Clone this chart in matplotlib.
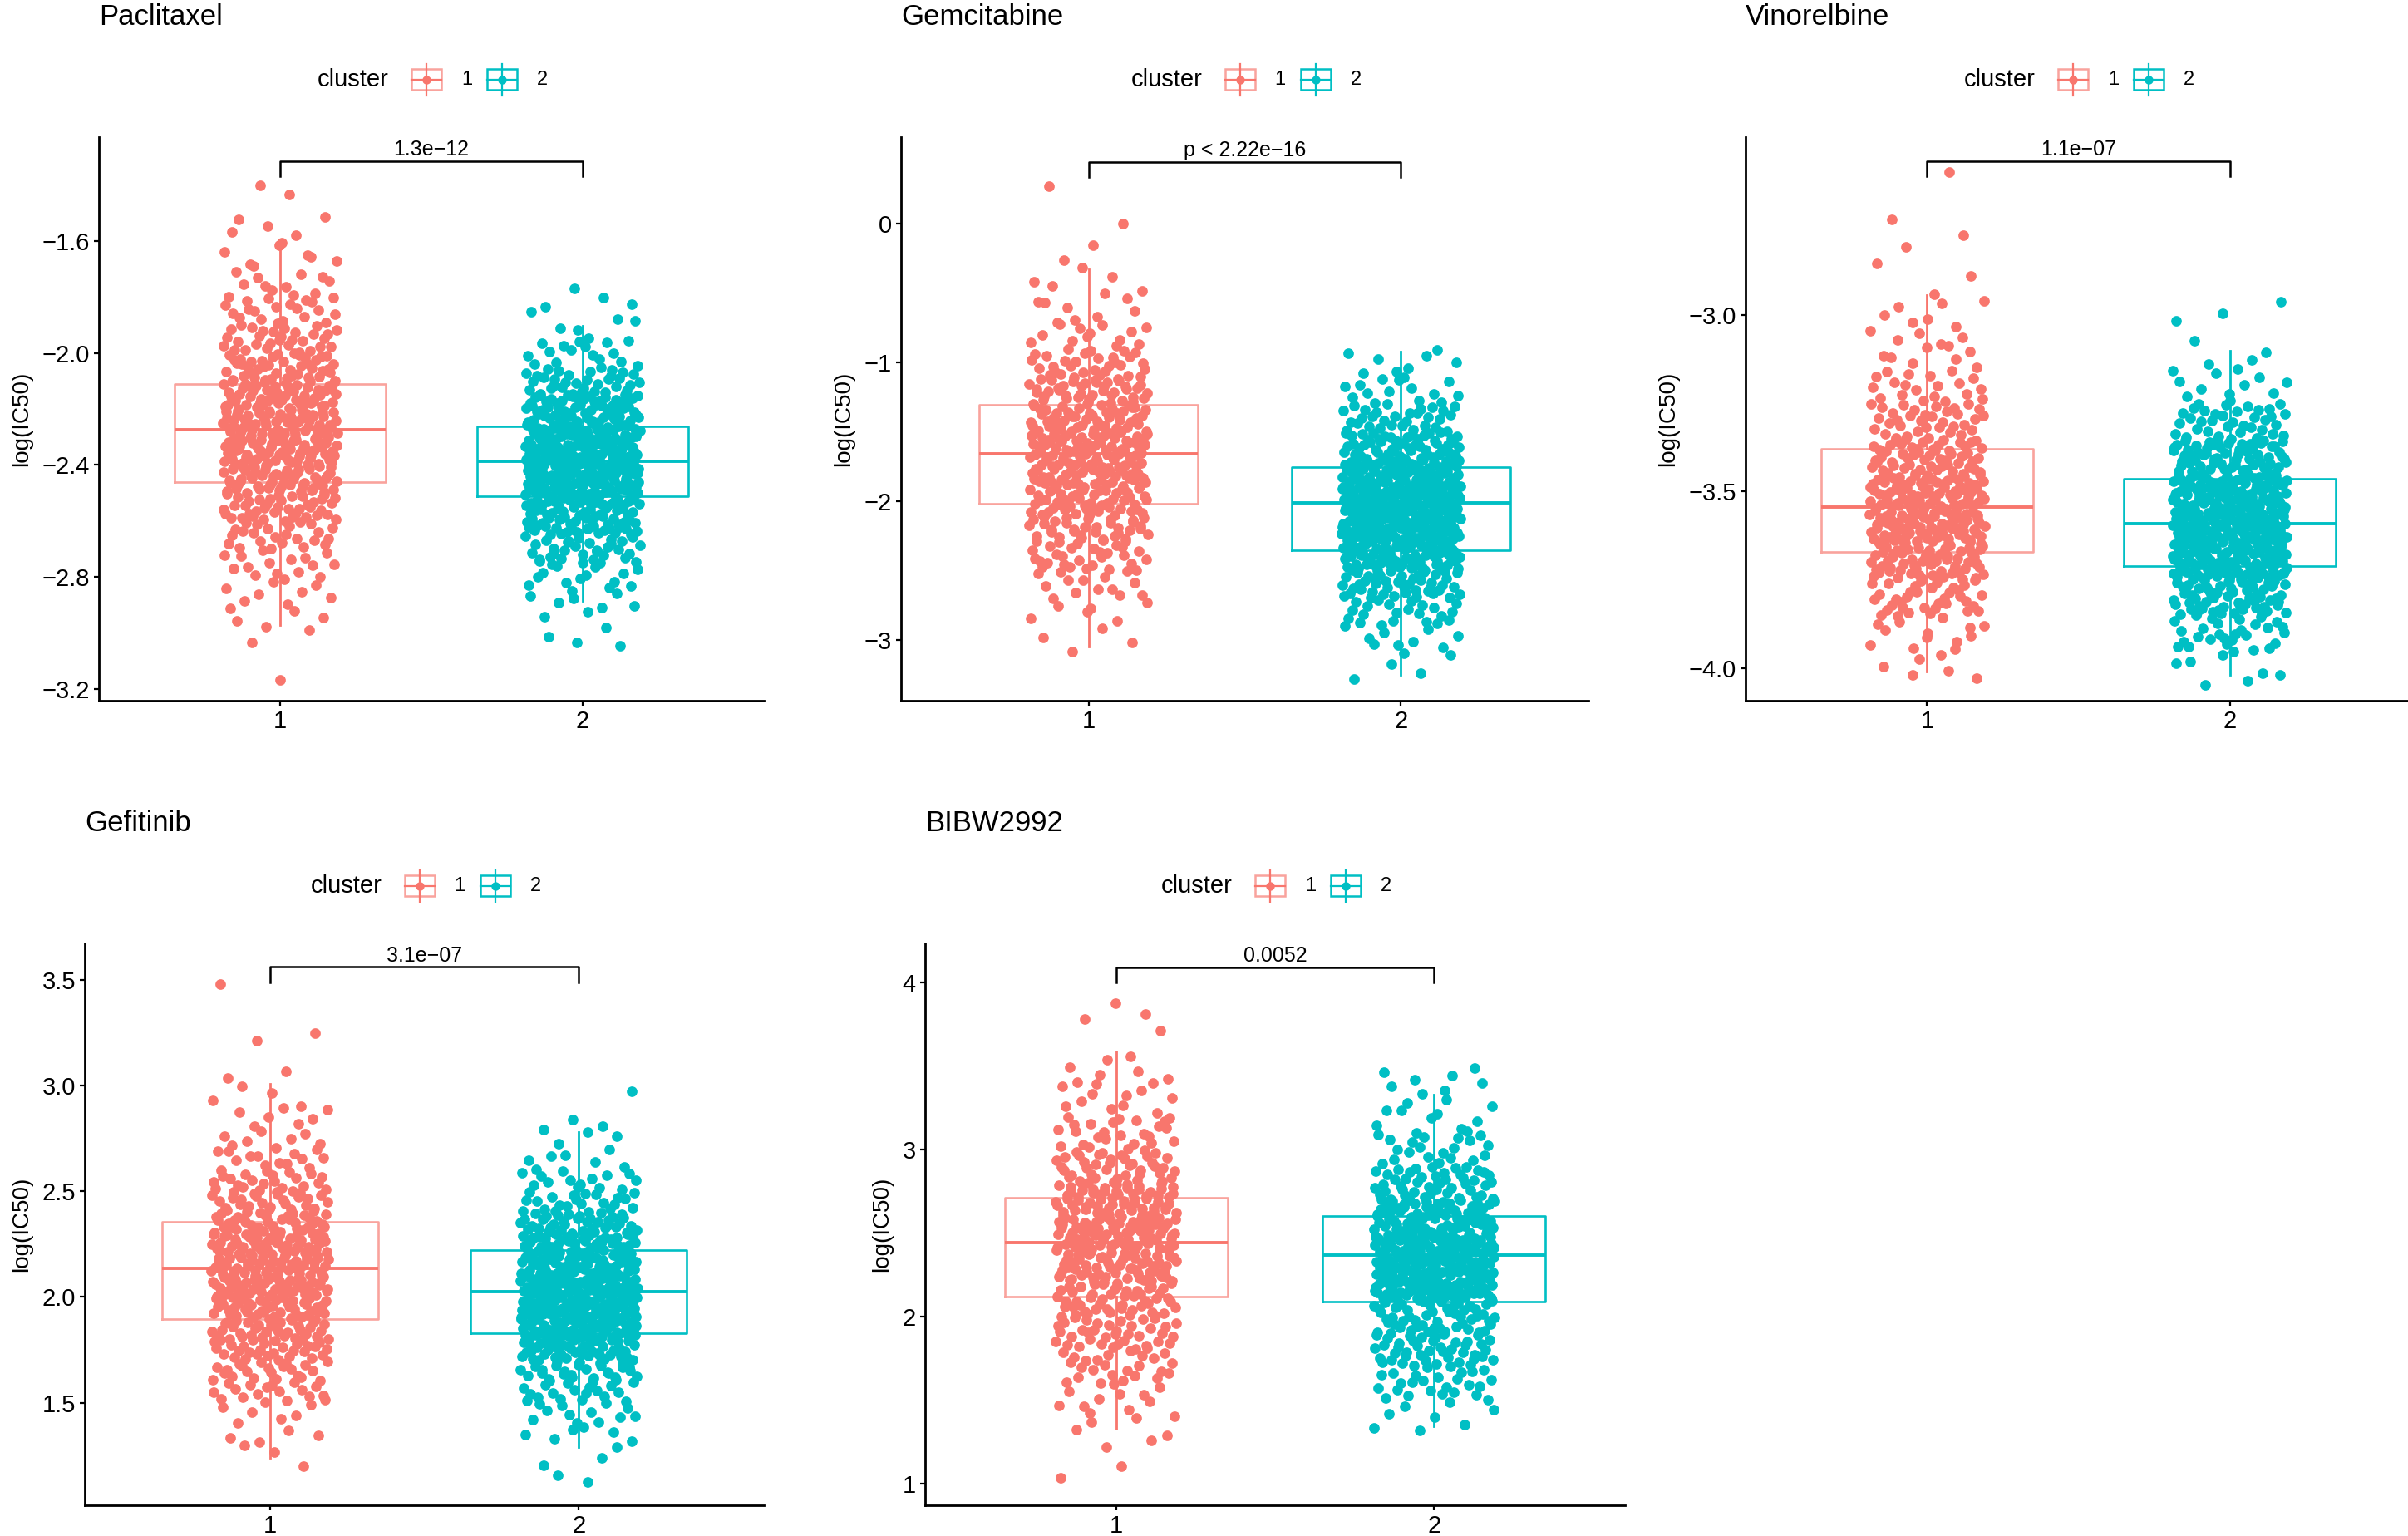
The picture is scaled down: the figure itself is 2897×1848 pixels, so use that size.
import numpy as np
import matplotlib
matplotlib.use("Agg")
import matplotlib.pyplot as plt
from matplotlib.patches import Rectangle
from matplotlib.lines import Line2D

plt.rcParams['font.family'] = ['Liberation Sans', 'DejaVu Sans']

W, H = 2897, 1848

drugs = ["Paclitaxel", "Gemcitabine", "Vinorelbine", "Gefitinib", "BIBW2992"]
p_labels = ["1.3e\u221212", "p < 2.22e\u221216", "1.1e\u221207", "3.1e\u221207", "0.0052"]
clusters = ["1", "2"]

# box stats: [whisker low, q1, median, q3, whisker high] for cluster 1, cluster 2
box_paclitaxel = [[-2.971, -2.460, -2.273, -2.110, -1.594], [-2.887, -2.513, -2.388, -2.262, -1.903]]
box_gemcitabine = [[-3.048, -2.018, -1.659, -1.305, -0.330], [-3.250, -2.353, -2.012, -1.754, -0.922]]
box_vinorelbine = [[-4.009, -3.671, -3.543, -3.379, -2.944], [-4.019, -3.711, -3.592, -3.464, -3.101]]
box_gefitinib = [[1.239, 1.897, 2.136, 2.355, 3.009], [1.290, 1.830, 2.027, 2.221, 2.781]]
box_bibw2992 = [[1.330, 2.118, 2.442, 2.710, 3.586], [1.344, 2.090, 2.366, 2.600, 3.330]]

# jitter points, estimated from the picture as counts per value bin:
# (lower edge of first bin, bin width, counts)
pts_paclitaxel = [(-3.2, 0.1, [1, 1, 6, 9, 15, 24, 40, 55, 65, 65, 58, 42, 30, 20, 12, 8, 5, 2]),
                  (-3.05, 0.1, [4, 8, 16, 32, 55, 80, 92, 85, 60, 35, 16, 6, 4])]
pts_gemcitabine = [(-3.1, 0.2, [4, 6, 14, 27, 38, 50, 58, 60, 52, 44, 29, 14, 8, 5, 2, 1, 1]),
                   (-3.3, 0.2, [4, 10, 22, 45, 75, 95, 100, 85, 55, 30, 15, 8])]
pts_vinorelbine = [(-4.05, 0.1, [6, 14, 35, 62, 80, 75, 55, 35, 20, 12, 8, 3, 2, 1, 1]),
                   (-4.05, 0.1, [8, 28, 60, 95, 110, 95, 65, 35, 12, 4, 3])]
pts_gefitinib = [(1.2, 0.1, [3, 4, 6, 18, 22, 30, 38, 45, 48, 52, 48, 38, 28, 22, 14, 8, 7, 4, 2, 0, 2, 0, 1]),
                 (1.1, 0.1, [2, 3, 6, 12, 18, 30, 45, 62, 70, 72, 62, 50, 37, 22, 14, 7, 4, 2, 1])]
pts_bibw2992 = [(1.0, 0.2, [2, 6, 12, 25, 38, 50, 68, 76, 66, 40, 25, 12, 7, 2, 2]),
                (1.3, 0.2, [8, 25, 45, 52, 100, 98, 80, 45, 20, 12, 8])]

# significance bracket height (data units)
bracket_y = [-1.315, 0.445, -2.565, 3.56, 4.09]

# y axis ranges and ticks
ylims = [(-3.242, -1.229), (-3.437, 0.623), (-4.092, -2.497), (1.015, 3.672), (0.871, 4.233)]
yticks = [[-3.2, -2.8, -2.4, -2.0, -1.6], [-3, -2, -1, 0], [-4.0, -3.5, -3.0],
          [1.5, 2.0, 2.5, 3.0, 3.5], [1, 2, 3, 4]]
tick_dec = [1, 0, 1, 1, 0]

boxes = [box_paclitaxel, box_gemcitabine, box_vinorelbine, box_gefitinib, box_bibw2992]
points = [pts_paclitaxel, pts_gemcitabine, pts_vinorelbine, pts_gefitinib, pts_bibw2992]

# panel placement in pixels: left, right, top, bottom
panels = [(119, 919, 165, 843), (1084, 1911, 165, 843), (2100, 2901, 165, 843),
          (102, 919, 1135, 1811), (1113, 1955, 1135, 1811)]
title_y = [21, 21, 21, 991, 991]
legend_y = [96, 96, 96, 1066, 1066]

colors = ["#F8766D", "#00BFC4"]
box_edge = ["#F9A39D", "#00BFC4"]


def fx(x):
    return x / W


def fy(y):
    return 1 - y / H


def halton(i, b):
    f, r = 1.0, 0.0
    while i > 0:
        f /= b
        r += f * (i % b)
        i //= b
    return r


def draw_legend(fig, cx, cy):
    fig.text(fx(cx - 137), fy(cy), "cluster", fontsize=21, ha="left", va="center")
    for i, c in enumerate(clusters):
        bx = cx - 24 + i * 91
        fig.add_artist(Line2D([fx(bx + 18)] * 2, [fy(cy - 19), fy(cy + 19)],
                              transform=fig.transFigure, color=colors[i], lw=1.6))
        fig.add_artist(Rectangle((fx(bx), fy(cy + 12)), 36 / W, 25 / H, transform=fig.transFigure,
                                 facecolor="white", edgecolor=box_edge[i], lw=1.8))
        fig.add_artist(Line2D([fx(bx), fx(bx + 36)], [fy(cy)] * 2,
                              transform=fig.transFigure, color=colors[i], lw=1.6))
        fig.add_artist(Line2D([fx(bx + 18)], [fy(cy)], transform=fig.transFigure, marker="o",
                              markersize=7.5, color=colors[i], markeredgewidth=0))
        fig.text(fx(bx + 60), fy(cy), c, fontsize=17, ha="left", va="center")


fig = plt.figure(figsize=(W / 100, H / 100), dpi=100)

g = 0
for p in range(5):
    l, r, t, b = panels[p]
    ax = fig.add_axes([fx(l), fy(b), (r - l) / W, (b - t) / H])
    ax.set_xlim(0.4, 2.6)
    ax.set_ylim(*ylims[p])

    # boxes
    for i in range(2):
        wl, q1, med, q3, wh = boxes[p][i]
        st = dict(whislo=wl, q1=q1, med=med, q3=q3, whishi=wh, fliers=[])
        ax.bxp([st], positions=[i + 1], widths=0.7, showcaps=False, showfliers=False,
               boxprops=dict(color=box_edge[i], lw=1.9),
               whiskerprops=dict(color=colors[i], lw=2.0),
               medianprops=dict(color=colors[i], lw=2.8), zorder=2)

    # jittered points
    for i in range(2):
        start, width, counts = points[p][i]
        xs, ys = [], []
        for j, n in enumerate(counts):
            for k in range(n):
                g += 1
                ys.append(start + width * (j + halton(g, 3)))
                xs.append(i + 1 + 0.19 * (2 * halton(g, 2) - 1))
        ax.scatter(xs, ys, s=84, color=colors[i], linewidths=0, zorder=3)

    # significance bracket
    yl = ylims[p]
    tip = 0.027 * (yl[1] - yl[0])
    yb = bracket_y[p]
    ax.plot([1, 1, 2, 2], [yb - tip, yb, yb, yb - tip], color="black", lw=1.8,
            clip_on=False, zorder=4)
    ax.annotate(p_labels[p], (1.5, yb), xytext=(0, 5), textcoords="offset points",
                ha="center", va="baseline", fontsize=18, annotation_clip=False)

    # axes styling
    for s in ["top", "right"]:
        ax.spines[s].set_visible(False)
    for s in ["left", "bottom"]:
        ax.spines[s].set_linewidth(2.0)
    ax.set_xticks([1, 2])
    ax.set_xticklabels(clusters)
    ax.set_yticks(yticks[p])
    ax.set_yticklabels([f"{v:.{tick_dec[p]}f}".replace("-", "\u2212") for v in yticks[p]])
    ax.tick_params(labelsize=21, length=4, width=1.6, pad=4, colors="black")
    ax.set_ylabel("log(IC50)", fontsize=20, labelpad=8)

    fig.text(fx(l), fy(title_y[p]), drugs[p], fontsize=25, ha="left", va="center")
    draw_legend(fig, (l + r) / 2 if p != 2 else 2500, legend_y[p])

fig.savefig("out.png", dpi=100)
